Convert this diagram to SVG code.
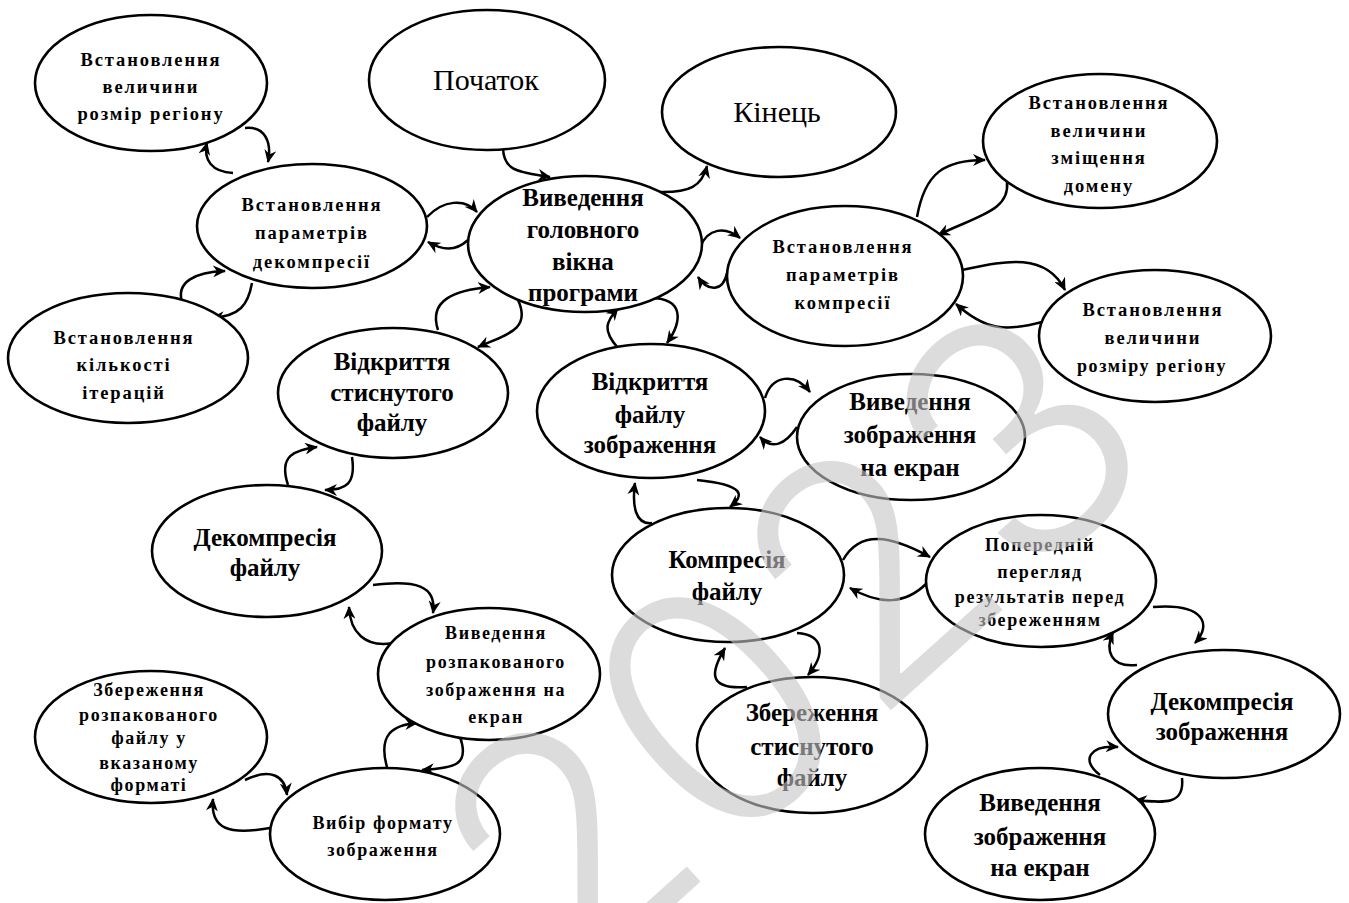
<svg xmlns="http://www.w3.org/2000/svg" width="1349" height="903" viewBox="0 0 1349 903">
<defs>
<marker id="ah" markerUnits="userSpaceOnUse" markerWidth="14" markerHeight="12" refX="12" refY="6" orient="auto">
<path d="M0,0 L13,6 L0,12 L4,6 z" fill="#000"/>
</marker>
<style>
ellipse{fill:#fff;stroke:#000;stroke-width:2.6}
text{font-family:"Liberation Serif","Times New Roman",serif;fill:#000;text-anchor:middle}
.s{font-size:18.5px;font-weight:bold;letter-spacing:1.9px}
.t{font-size:18px;font-weight:bold;letter-spacing:1.6px}
.m{font-size:25px;font-weight:bold}
.b{font-size:30px;font-weight:normal}
.c path{fill:none;stroke:#000;stroke-width:2.5;marker-end:url(#ah)}
.wm{font-family:Inter,"Liberation Sans",Arial,sans-serif;font-weight:300;font-size:330px;fill:#c6c6c6;opacity:0.6;text-anchor:start}
</style>
</defs>
<rect width="1349" height="903" fill="#fff"/>
<g id="connectors" class="c">
<path d="M233,173 C212,172 203,160 207,143"/>
<path d="M245,128 C265,126 272,142 268,162"/>
<path d="M182,302 C176,282 195,272 225,271"/>
<path d="M252,283 C248,305 240,316 212,318"/>
<path d="M427,217 C443,200 465,198 477,212"/>
<path d="M468,240 C455,252 442,250 428,242"/>
<path d="M503,147 C503,172 520,172 550,177"/>
<path d="M658,192 C690,193 702,186 707,166"/>
<path d="M700,247 C708,228 725,226 740,238"/>
<path d="M727,273 C723,292 708,292 698,277"/>
<path d="M438,330 C428,300 455,290 490,287"/>
<path d="M518,300 C532,330 505,335 478,347"/>
<path d="M618,348 C602,330 606,322 618,308"/>
<path d="M650,298 C685,298 682,322 667,343"/>
<path d="M288,485 C278,455 295,450 317,447"/>
<path d="M352,457 C356,484 346,490 325,490"/>
<path d="M373,585 C415,580 437,585 433,613"/>
<path d="M393,643 C365,648 350,632 349,607"/>
<path d="M387,767 C378,735 392,725 417,723"/>
<path d="M460,737 C470,765 455,768 422,770"/>
<path d="M245,780 C270,768 285,775 287,795"/>
<path d="M270,828 C230,835 210,830 213,799"/>
<path d="M917,217 C925,172 945,160 985,160"/>
<path d="M1007,182 C1010,210 980,215 938,235"/>
<path d="M962,270 C1000,262 1045,250 1065,290"/>
<path d="M1042,322 C1005,332 985,330 956,304"/>
<path d="M765,398 C772,375 795,372 810,392"/>
<path d="M797,427 C785,445 772,450 760,437"/>
<path d="M652,523 C635,525 632,505 635,483"/>
<path d="M697,480 C745,485 745,495 730,507"/>
<path d="M843,560 C860,530 890,535 930,557"/>
<path d="M927,583 C905,605 880,605 850,588"/>
<path d="M797,633 C825,635 825,655 808,675"/>
<path d="M747,687 C705,690 712,670 725,648"/>
<path d="M1153,607 C1205,603 1212,625 1195,643"/>
<path d="M1137,665 C1110,668 1105,650 1113,632"/>
<path d="M1100,775 C1080,760 1090,745 1118,747"/>
<path d="M1182,778 C1185,805 1165,803 1135,800"/>
</g>
<g id="n1"><ellipse cx="151" cy="83" rx="116" ry="68"/>
<text class="s" x="151" y="66">Встановлення</text><text class="s" x="151" y="93">величини</text><text class="s" x="151" y="120">розмір регіону</text></g>
<g id="n2"><ellipse cx="312" cy="226" rx="115" ry="62"/>
<text class="s" x="312" y="211">Встановлення</text><text class="s" x="312" y="239">параметрів</text><text class="s" x="312" y="268">декомпресії</text></g>
<g id="n3"><ellipse cx="128" cy="358" rx="120" ry="65"/>
<text class="s" x="124" y="344">Встановлення</text><text class="s" x="124" y="371">кількості</text><text class="s" x="124" y="399">ітерацій</text></g>
<g id="n4"><ellipse cx="487" cy="80" rx="118" ry="70"/>
<text class="b" x="486" y="90">Початок</text></g>
<g id="n5"><ellipse cx="779" cy="112" rx="117" ry="65"/>
<text class="b" x="777" y="122">Кінець</text></g>
<g id="n6"><ellipse cx="585" cy="244" rx="117" ry="68"/>
<text class="m" x="583" y="206">Виведення</text><text class="m" x="583" y="238">головного</text><text class="m" x="583" y="270">вікна</text><text class="m" x="583" y="301">програми</text></g>
<g id="n7"><ellipse cx="845" cy="276" rx="118" ry="70"/>
<text class="s" x="843" y="253">Встановлення</text><text class="s" x="843" y="281">параметрів</text><text class="s" x="843" y="309">компресії</text></g>
<g id="n8"><ellipse cx="1100" cy="141" rx="117" ry="67"/>
<text class="s" x="1099" y="109">Встановлення</text><text class="s" x="1099" y="137">величини</text><text class="s" x="1099" y="164">зміщення</text><text class="s" x="1099" y="192">домену</text></g>
<g id="n9"><ellipse cx="1155" cy="336" rx="116" ry="66"/>
<text class="s" x="1153" y="316">Встановлення</text><text class="s" x="1153" y="344">величини</text><text class="t" x="1152" y="372">розміру регіону</text></g>
<g id="n10"><ellipse cx="393" cy="393" rx="115" ry="65"/>
<text class="m" x="392" y="370">Відкриття</text><text class="m" x="392" y="401">стиснутого</text><text class="m" x="392" y="431">файлу</text></g>
<g id="n11"><ellipse cx="651" cy="411" rx="114" ry="67"/>
<text class="m" x="650" y="390">Відкриття</text><text class="m" x="650" y="423">файлу</text><text class="m" x="650" y="453">зображення</text></g>
<g id="n12"><ellipse cx="911" cy="437" rx="114" ry="63"/>
<text class="m" x="910" y="410">Виведення</text><text class="m" x="910" y="443">зображення</text><text class="m" x="910" y="476">на екран</text></g>
<g id="n13"><ellipse cx="728" cy="575" rx="116" ry="67"/>
<text class="m" x="727" y="568">Компресія</text><text class="m" x="727" y="600">файлу</text></g>
<g id="n14"><ellipse cx="1041" cy="581" rx="115" ry="66"/>
<text class="t" x="1040" y="551">Попередній</text><text class="t" x="1040" y="578">перегляд</text><text class="t" x="1040" y="603">результатів перед</text><text class="t" x="1040" y="626">збереженням</text></g>
<g id="n15"><ellipse cx="1224" cy="714" rx="116" ry="64"/>
<text class="m" x="1222" y="710">Декомпресія</text><text class="m" x="1222" y="740">зображення</text></g>
<g id="n16"><ellipse cx="1040" cy="834" rx="115" ry="66"/>
<text class="m" x="1040" y="811">Виведення</text><text class="m" x="1040" y="845">зображення</text><text class="m" x="1040" y="876">на екран</text></g>
<g id="n17"><ellipse cx="267" cy="551" rx="115" ry="66"/>
<text class="m" x="265" y="546">Декомпресія</text><text class="m" x="265" y="576">файлу</text></g>
<g id="n18"><ellipse cx="489" cy="674" rx="111" ry="66"/>
<text class="t" x="496" y="639">Виведення</text><text class="t" x="496" y="668">розпакованого</text><text class="t" x="496" y="696">зображення на</text><text class="t" x="496" y="723">екран</text></g>
<g id="n19"><ellipse cx="151" cy="737" rx="116" ry="66"/>
<text class="t" x="149" y="696">Збереження</text><text class="t" x="149" y="721">розпакованого</text><text class="t" x="149" y="744">файлу у</text><text class="t" x="149" y="769">вказаному</text><text class="t" x="149" y="791">форматі</text></g>
<g id="n20"><ellipse cx="385" cy="834" rx="115" ry="66"/>
<text class="t" x="383" y="829">Вибір формату</text><text class="t" x="383" y="856">зображення</text></g>
<g id="n21"><ellipse cx="812" cy="745" rx="115" ry="68"/>
<text class="m" x="812" y="721">Збереження</text><text class="m" x="812" y="755">стиснутого</text><text class="m" x="812" y="786">файлу</text></g>
<text class="wm" transform="translate(870,729) rotate(-42)" x="-405" y="0">2023</text>
</svg>
